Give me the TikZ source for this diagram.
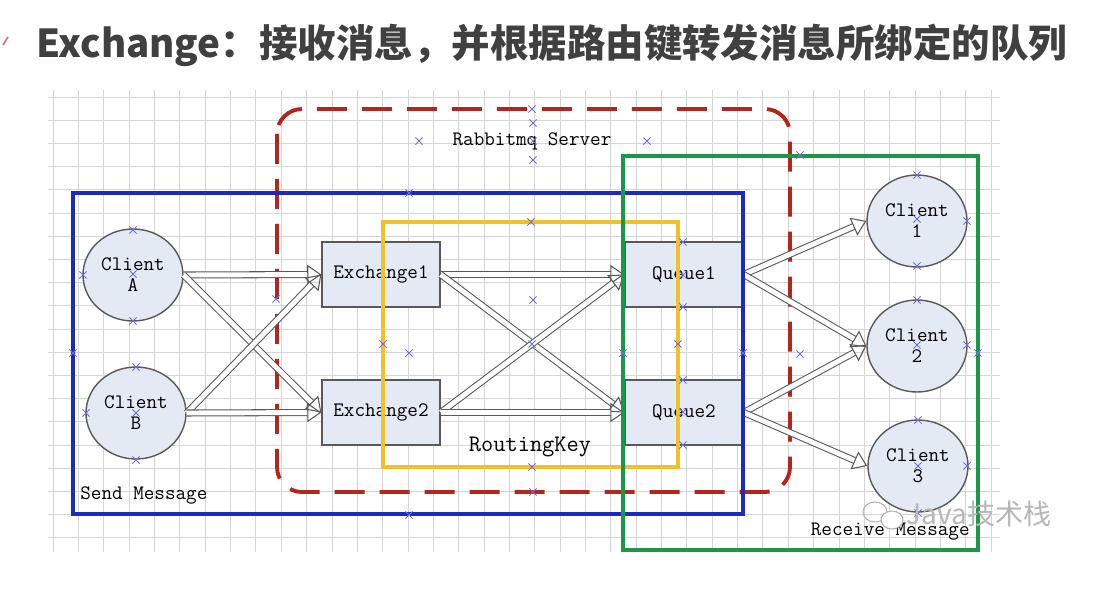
\documentclass[tikz,border=0pt]{standalone}
\usepackage{fontspec}
\newfontfamily\cjk{Noto Sans CJK SC}
\usetikzlibrary{arrows.meta,shapes.geometric,shapes.misc}
\definecolor{sendblue}{RGB}{30,42,190}
\definecolor{serverred}{RGB}{178,38,28}
\definecolor{routeyellow}{RGB}{242,192,40}
\definecolor{recvgreen}{RGB}{28,150,72}
\definecolor{boxfill}{RGB}{228,234,244}
\definecolor{markblue}{RGB}{110,110,215}
\tikzset{
  gridline/.style={draw=black!16, line width=0.35pt},
  client/.style={ellipse, draw=black!65, line width=0.8pt, fill=boxfill,
    minimum width=2cm, minimum height=1.84cm, inner sep=0pt, align=center,
    font=\ttfamily\fontsize{11.7}{12}\selectfont},
  box/.style={rectangle, draw=black!65, line width=0.8pt, fill=boxfill,
    minimum width=2.36cm, minimum height=1.3cm, inner sep=0pt,
    font=\ttfamily\fontsize{11.7}{12}\selectfont},
  pipe/.style={draw=black!65, line width=0.6pt, double=white, double distance=2.8pt,
    -{Triangle[open, length=8pt, width=11pt]}},
  framelabel/.style={font=\ttfamily\fontsize{11.7}{12}\selectfont, text=black, inner sep=0pt},
  cpoint/.style={cross out, draw=markblue, line width=0.5pt, minimum size=3.5pt, inner sep=0pt}
}
\begin{document}
\begin{tikzpicture}[x=0.02cm, y=-0.02cm]
  \useasboundingbox[fill=white] (0,0) rectangle (1093,592);
  % grid
  \foreach \k in {0,...,37}
    \draw[gridline] ({53+25.35*\k},90) -- ({53+25.35*\k},552);
  \foreach \k in {0,...,19}
    \draw[gridline] (48,{97+23.2*\k}) -- (1000,{97+23.2*\k});
  % title
  \draw[serverred!60, line width=1pt] (3,45) -- (8,37);
  \node[anchor=west, inner sep=0pt, text=black!75,
    font=\cjk\bfseries\fontsize{21.9}{24}\selectfont] (title) at (36,45)
    {Exchange：接收消息，并根据路由键转发消息所绑定的队列};
  % server
  \draw[serverred, line width=2.2pt, rounded corners=0.5cm, dash pattern=on 0.6cm off 0.3cm]
    (277,109) rectangle (790,492);
  % nodes
  \node[client] (A) at (133,275) {Client\\A};
  \node[client] (B) at (136,413) {Client\\B};
  \node[box] (ex1) at (381,274.5) {Exchange1};
  \node[box] (ex2) at (381,412.5) {Exchange2};
  \node[box] (q1) at (684,274.5) {Queue1};
  \node[box] (q2) at (684,412.5) {Queue2};
  \node[client] (c1) at (917,221) {Client\\1};
  \node[client] (c2) at (917,346) {Client\\2};
  \node[client] (c3) at (918,466) {Client\\3};
  % bindings
  \foreach \s/\t in {A/ex1, A/ex2, B/ex1, B/ex2, ex1/q1, ex1/q2, ex2/q1, ex2/q2,
                     q1/c1, q1/c2, q2/c2, q2/c3}
    \draw[pipe] (\s.east) -- (\t.west);
  % groups
  \draw[sendblue, line width=2.2pt] (73,193) rectangle (743,514);
  \draw[routeyellow, line width=2.2pt] (383,222) rectangle (678,467);
  \draw[recvgreen, line width=2pt] (623,156) rectangle (978,550);
  \node[framelabel] (server) at (532,141) {Rabbitmq Server};
  \node[framelabel, font=\ttfamily\fontsize{13.5}{14}\selectfont] (route) at (530,447) {RoutingKey};
  \node[framelabel, anchor=west] (send) at (80,495) {Send Message};
  \node[framelabel, anchor=east] (recv) at (970,532) {Receive Message};
  % connection points
  \foreach \p in {(133,230),(83,275),(133,274),(133,321),(136,367),(86,413),(136,413),(136,460),
                  (276,299),(532,109),(533,123),(419,141),(533,141),(533,160),(647,141),
                  (409,193),(531,222),(533,300),(683,242),(683,275),(683,307),
                  (800,155),(917,175),(917,219),(967,221),(917,266),(917,300),(917,345),(967,345),
                  (743,353),(800,354),(978,353),(73,353),(383,344),(409,353),(532,344),
                  (678,344),(623,353),(683,380),(683,412),(683,445),(532,467),(533,492),
                  (409,515),(918,420),(918,466),(967,466),(918,513)}
    \node[cpoint] at \p {};
  % watermark
  \draw[black!30, line width=0.6pt] (875,512) ellipse (12 and 10);
  \draw[black!30, line width=0.6pt, fill=white] (892,520) ellipse (11 and 9);
  \node[anchor=west, inner sep=0pt, text=black!28, font=\cjk\fontsize{16}{18}\selectfont] (mark) at (906,514) {Java技术栈};
\end{tikzpicture}
\end{document}
